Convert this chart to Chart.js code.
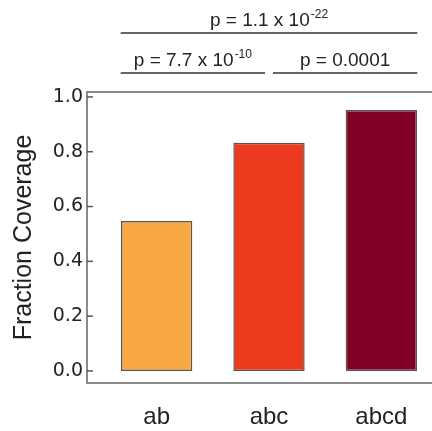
<!DOCTYPE html>
<html>
<head>
<meta charset="utf-8">
<script src="https://cdn.jsdelivr.net/npm/chart.js@4.4.1/dist/chart.umd.min.js"></script>
<style>
  html, body { margin: 0; padding: 0; background: #fff; overflow: hidden; }
  #wrap { width: 432px; height: 431px; overflow: hidden; }
</style>
</head>
<body>
<div id="wrap"><canvas id="chart" width="451" height="431"></canvas></div>
<script>
// data
const categories = ['ab', 'abc', 'abcd'];
const coverage = [0.547, 0.833, 0.952];
const barColors = ['#F8A843', '#EC3A1E', '#800026'];
const yTicks = [0, 0.2, 0.4, 0.6, 0.8, 1.0];

// significance brackets: [from bar, to bar], text, exponent
const pairs = [[0, 1], [1, 2], [0, 2]];
const pText = ['p = 7.7 x 10', 'p = 0.0001', 'p = 1.1 x 10'];
const pExp = ['-10', '', '-22'];

const sansFont = '"Liberation Sans", Arial, sans-serif';

// frame on left/top/bottom plus inward ticks
const framePlugin = {
  id: 'frame',
  afterDatasetsDraw(chart) {
    const { ctx, chartArea: a, scales: { y } } = chart;
    ctx.save();
    ctx.strokeStyle = '#8a8a8a';
    ctx.lineWidth = 2;
    ctx.beginPath();
    ctx.moveTo(a.right + 5, a.top);
    ctx.lineTo(a.left, a.top);
    ctx.lineTo(a.left, a.bottom);
    ctx.lineTo(a.right + 5, a.bottom);
    ctx.stroke();

    ctx.strokeStyle = '#555';
    ctx.lineWidth = 1.5;
    yTicks.forEach(v => {
      const py = y.getPixelForValue(v);
      ctx.beginPath();
      ctx.moveTo(a.left, py);
      ctx.lineTo(a.left + 6, py);
      ctx.stroke();
    });
    ctx.restore();
  }
};

// p value brackets above the plot
const bracketPlugin = {
  id: 'brackets',
  afterDraw(chart) {
    const { ctx, scales: { x } } = chart;
    const half = 0.32;
    ctx.save();
    pairs.forEach((p, k) => {
      const span = p[1] - p[0];
      const lineY = span > 1 ? 33 : 73;
      // shared middle bar: stop short of its centre
      let from = p[0] - half, to = p[1] + half;
      if (span === 1 && p[0] === 1) from = p[0] + 0.035;
      if (span === 1 && p[1] === 1) to = p[1] - 0.035;
      const x0 = x.getPixelForValue(from);
      const x1 = x.getPixelForValue(to);

      ctx.strokeStyle = '#666';
      ctx.lineWidth = 1.8;
      ctx.beginPath();
      ctx.moveTo(x0, lineY);
      ctx.lineTo(x1, lineY);
      ctx.stroke();

      ctx.fillStyle = '#222';
      ctx.textBaseline = 'alphabetic';
      ctx.textAlign = 'left';
      ctx.font = '19px ' + sansFont;
      const w1 = ctx.measureText(pText[k]).width;
      ctx.font = '12px ' + sansFont;
      const w2 = pExp[k] ? ctx.measureText(pExp[k]).width + 1 : 0;
      const start = (x0 + x1) / 2 - (w1 + w2) / 2;
      const base = lineY - 7;
      ctx.font = '19px ' + sansFont;
      ctx.fillText(pText[k], start, base);
      if (pExp[k]) {
        ctx.font = '12px ' + sansFont;
        ctx.fillText(pExp[k], start + w1 + 1, base - 8);
      }
    });
    ctx.restore();
  }
};

const ctx = document.getElementById('chart').getContext('2d');
new Chart(ctx, {
  type: 'bar',
  data: {
    datasets: [{
      data: coverage.map((v, i) => ({ x: i, y: v })),
      backgroundColor: barColors,
      borderColor: 'rgba(70, 50, 40, 0.85)',
      borderWidth: 1.5,
      borderSkipped: false,
      barPercentage: 0.635,
      categoryPercentage: 1
    }]
  },
  options: {
    responsive: false,
    animation: false,
    layout: { padding: { top: 92, left: 0, right: 0, bottom: 0 } },
    plugins: {
      legend: { display: false },
      tooltip: { enabled: false }
    },
    scales: {
      x: {
        type: 'linear',
        offset: false,
        min: -0.62,
        max: 2.62,
        afterBuildTicks: axis => { axis.ticks = categories.map((c, i) => ({ value: i })); },
        afterFit: axis => { axis.height = 48; },
        grid: { display: false, drawTicks: false, offset: false },
        border: { display: false },
        ticks: {
          padding: 20,
          color: '#222',
          font: { family: sansFont, size: 24 },
          callback: v => categories[v]
        }
      },
      y: {
        min: -0.044,
        max: 1.018,
        afterBuildTicks: axis => { axis.ticks = yTicks.map(v => ({ value: v })); },
        afterFit: axis => { axis.width = 87; },
        grid: { display: false, drawTicks: false },
        border: { display: false },
        ticks: {
          padding: 4,
          color: '#222',
          font: { family: '"DejaVu Sans", sans-serif', size: 19 },
          callback: v => v.toFixed(1)
        },
        title: {
          display: true,
          text: 'Fraction Coverage',
          color: '#222',
          font: { family: sansFont, size: 25 },
          padding: { top: 9, bottom: 0 }
        }
      }
    }
  },
  plugins: [framePlugin, bracketPlugin]
});
</script>
</body>
</html>
